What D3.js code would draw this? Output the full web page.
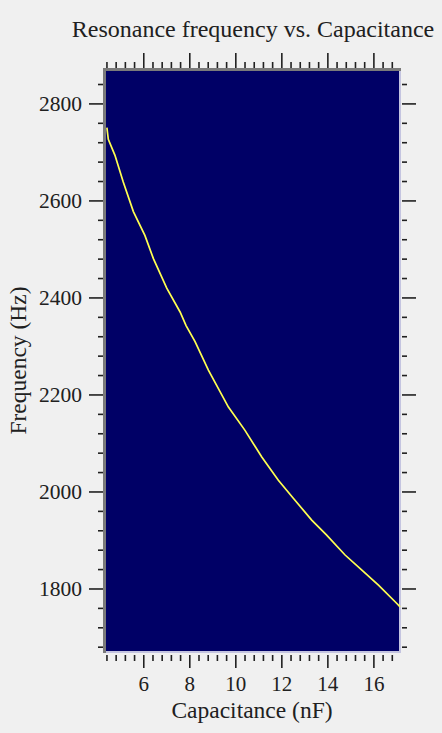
<!DOCTYPE html>
<html>
<head>
<meta charset="utf-8">
<script src="https://cdn.jsdelivr.net/npm/d3@7"></script>
<style>
  body { margin: 0; background: #f0f0f0; }
  svg { display: block; }
  .axis text { font-family: "Liberation Serif", "Times New Roman", serif; fill: #202020; }
  .axis line { stroke: #202020; stroke-width: 1.6; }
</style>
</head>
<body>
<div id="chart"></div>
<script>
// values
const capacitance = [4.42, 4.48, 4.77, 5.13, 5.57, 6.07, 6.44, 7.02, 7.60, 7.86, 8.25, 8.83, 9.70,
  10.42, 11.15, 11.87, 12.52, 13.32, 13.97, 14.77, 15.50, 16.22, 17.02, 17.16];
const frequency = [2750, 2726, 2693, 2638, 2577, 2528, 2480, 2419, 2370, 2342, 2309, 2250, 2174,
  2126, 2071, 2023, 1986, 1941, 1910, 1869, 1838, 1807, 1769, 1762];
const xMajorTicks = [6, 8, 10, 12, 14, 16];
const yMajorTicks = [1800, 2000, 2200, 2400, 2600, 2800];
const xRange = [4.25, 17.2];
const yRange = [1667, 2873];

const width = 442, height = 733;
const plotLeft = 103, plotRight = 401, plotTop = 68, plotBottom = 653;

const svg = d3.select("#chart")
  .append("svg")
  .attr("width", width)
  .attr("height", height);

const x = d3.scaleLinear().domain(xRange).range([plotLeft, plotRight]);
const y = d3.scaleLinear().domain(yRange).range([plotBottom, plotTop]);

// minor ticks every 0.4 nF / 40 Hz
const xMinor = d3.range(4.4, 17.2, 0.4).map(v => +v.toFixed(1)).filter(v => !xMajorTicks.includes(v));
const yMinor = d3.range(1680, 2873, 40).filter(v => !yMajorTicks.includes(v));

// plot area
svg.append("rect")
  .attr("x", plotLeft).attr("y", plotTop)
  .attr("width", plotRight - plotLeft).attr("height", plotBottom - plotTop)
  .attr("fill", "#000066");
// frame: dark on top/left, light on right/bottom
svg.append("rect").attr("x", plotLeft).attr("y", plotTop).attr("width", plotRight - plotLeft).attr("height", 3).attr("fill", "#7a7a7a");
svg.append("rect").attr("x", plotLeft).attr("y", plotTop).attr("width", 3).attr("height", plotBottom - plotTop).attr("fill", "#7a7a7a");
svg.append("rect").attr("x", plotRight - 2).attr("y", plotTop + 3).attr("width", 2).attr("height", plotBottom - plotTop - 3).attr("fill", "#c4c4e0");
svg.append("rect").attr("x", plotLeft + 3).attr("y", plotBottom - 2).attr("width", plotRight - plotLeft - 3).attr("height", 2).attr("fill", "#c4c4e0");

function drawAxis(axisFn, scale, minor, major, pos, minorLen, majorLen, pad, labels, size) {
  const gMin = svg.append("g").attr("class", "axis").attr("transform", pos)
    .call(axisFn(scale).tickValues(minor).tickSize(minorLen).tickFormat(""));
  gMin.select(".domain").remove();
  const ax = axisFn(scale).tickValues(major).tickSize(majorLen).tickPadding(pad)
    .tickFormat(labels ? d3.format("d") : "");
  const gMaj = svg.append("g").attr("class", "axis").attr("transform", pos).call(ax);
  gMaj.select(".domain").remove();
  gMaj.selectAll("text").style("font-size", size + "px");
}

drawAxis(d3.axisLeft, y, yMinor, yMajorTicks, "translate(" + plotLeft + ",0)", 5, 14, 7, true, 21.5);
drawAxis(d3.axisRight, y, yMinor, yMajorTicks, "translate(402,0)", 5, 14, 7, false, 21.5);
drawAxis(d3.axisBottom, x, xMinor, xMajorTicks, "translate(0,655)", 6, 13, 8.5, true, 21);
drawAxis(d3.axisTop, x, xMinor, xMajorTicks, "translate(0," + plotTop + ")", 6, 15, 7, false, 21);

// curve
const line = d3.line()
  .x((d, i) => x(capacitance[i]))
  .y(d => y(d));
svg.append("path")
  .datum(frequency)
  .attr("fill", "none")
  .attr("stroke", "#ffff50")
  .attr("stroke-width", 1.7)
  .attr("d", line);

// titles
svg.append("text")
  .attr("x", 253).attr("y", 36.5)
  .attr("text-anchor", "middle")
  .style("font-family", "Liberation Serif, serif")
  .style("font-size", "24px")
  .style("fill", "#202020")
  .text("Resonance frequency vs. Capacitance");

svg.append("text")
  .attr("x", (plotLeft + plotRight) / 2).attr("y", 718)
  .attr("text-anchor", "middle")
  .style("font-family", "Liberation Serif, serif")
  .style("font-size", "23.5px")
  .style("fill", "#202020")
  .text("Capacitance (nF)");

svg.append("text")
  .attr("transform", "translate(26," + (plotTop + plotBottom) / 2 + ") rotate(-90)")
  .attr("text-anchor", "middle")
  .style("font-family", "Liberation Serif, serif")
  .style("font-size", "23.5px")
  .style("fill", "#202020")
  .text("Frequency (Hz)");
</script>
</body>
</html>
